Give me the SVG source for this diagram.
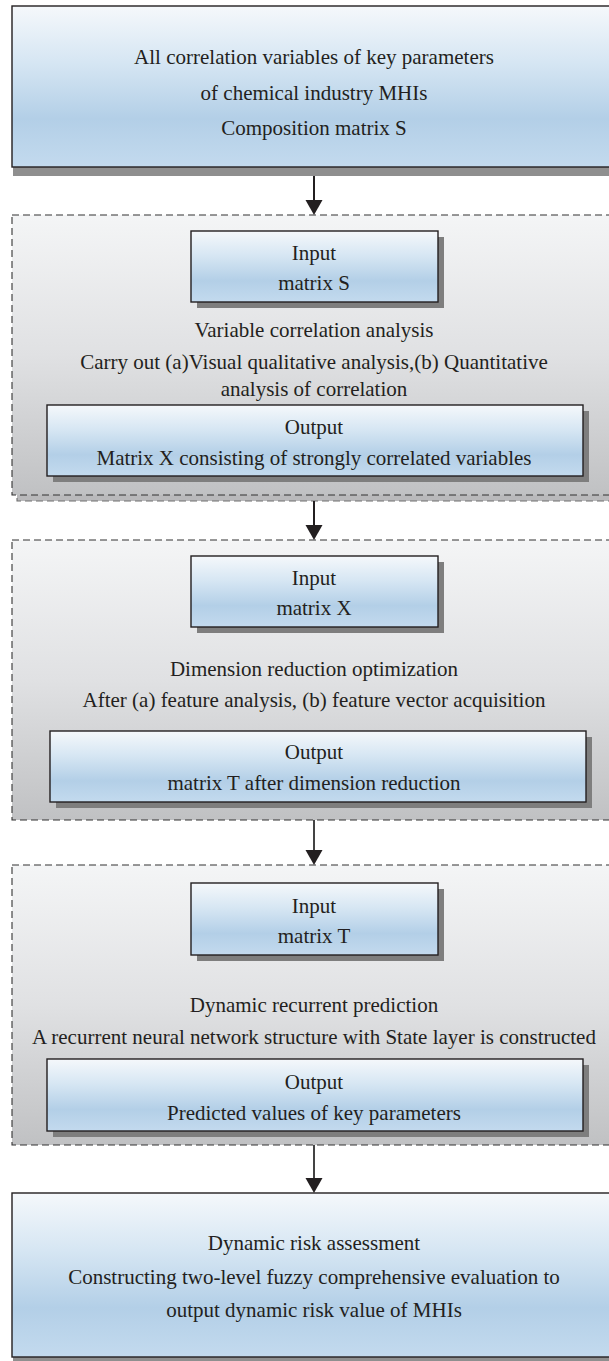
<svg xmlns="http://www.w3.org/2000/svg" width="609" height="1361" viewBox="0 0 609 1361">
<defs>
<linearGradient id="blue" x1="0" y1="0" x2="0" y2="1">
<stop offset="0" stop-color="#f5f8fb"/>
<stop offset="0.35" stop-color="#d6e6f3"/>
<stop offset="0.7" stop-color="#b3cfe7"/>
<stop offset="1" stop-color="#c3daee"/>
</linearGradient>
<linearGradient id="grey" x1="0" y1="0" x2="0" y2="1">
<stop offset="0" stop-color="#f4f5f6"/>
<stop offset="0.5" stop-color="#e0e1e3"/>
<stop offset="1" stop-color="#c0c1c3"/>
</linearGradient>
<marker id="arr" markerWidth="17" markerHeight="16" refX="8.5" refY="15" orient="auto-start-reverse" markerUnits="userSpaceOnUse" viewBox="0 0 17 16">
<path d="M0,0 L17,0 L8.5,15 Z" fill="#231f20" transform="rotate(-90 8.5 8)"/>
</marker>
</defs>
<style>
text{font-family:"Liberation Serif","Times New Roman",serif;font-size:21px;fill:#231f20;text-anchor:middle}
.box{fill:url(#blue);stroke:#231f20;stroke-width:1.4}
.sh{fill:#7e7e7e}
.bigsh{fill:#8f8f8f}
.dash{fill:url(#grey);stroke:#333;stroke-width:1.1;stroke-dasharray:7,4}
.dashsh{fill:#b9b9bb;stroke:#6e6e6e;stroke-width:1.1;stroke-dasharray:7,4}
.line{stroke:#231f20;stroke-width:2;fill:none}
.head{fill:#231f20}
</style>

<g id="top-node">
<rect class="bigsh" x="13" y="166" width="610" height="10"/>
<rect class="box" x="12" y="6" width="610" height="161"/>
<text x="314" y="64">All correlation variables of key parameters</text>
<text x="314" y="100">of chemical industry MHIs</text>
<text x="314" y="135">Composition matrix S</text>
</g>

<g id="stage1">
<rect class="dashsh" x="17" y="221" width="610" height="280"/>
<rect class="dash" x="12" y="215" width="610" height="280"/>
<g id="input1">
<rect class="sh" x="197" y="237" width="247" height="71"/>
<rect class="box" x="191" y="231" width="247" height="71"/>
<text x="314" y="260">Input</text>
<text x="314" y="290">matrix S</text>
</g>
<text x="314" y="337">Variable correlation analysis</text>
<text x="314" y="369">Carry out (a)Visual qualitative analysis,(b) Quantitative</text>
<text x="314" y="396">analysis of correlation</text>
<g id="output1">
<rect class="sh" x="53" y="411" width="536" height="71"/>
<rect class="box" x="47" y="405" width="536" height="71"/>
<text x="314" y="434">Output</text>
<text x="314" y="465">Matrix X consisting of strongly correlated variables</text>
</g>
</g>

<g id="stage2">
<rect class="dash" x="12" y="540" width="610" height="280"/>
<g id="input2">
<rect class="sh" x="197" y="562" width="247" height="71"/>
<rect class="box" x="191" y="556" width="247" height="71"/>
<text x="314" y="585">Input</text>
<text x="314" y="615">matrix X</text>
</g>
<text x="314" y="676">Dimension reduction optimization</text>
<text x="314" y="707">After (a) feature analysis, (b) feature vector acquisition</text>
<g id="output2">
<rect class="sh" x="56" y="737" width="536" height="71"/>
<rect class="box" x="50" y="731" width="536" height="71"/>
<text x="314" y="759">Output</text>
<text x="314" y="790">matrix T after dimension reduction</text>
</g>
</g>

<g id="stage3">
<rect class="dash" x="12" y="865" width="610" height="280"/>
<g id="input3">
<rect class="sh" x="197" y="889" width="247" height="72"/>
<rect class="box" x="191" y="883" width="247" height="72"/>
<text x="314" y="913">Input</text>
<text x="314" y="943">matrix T</text>
</g>
<text x="314" y="1012">Dynamic recurrent prediction</text>
<text x="314" y="1044">A recurrent neural network structure with State layer is constructed</text>
<g id="output3">
<rect class="sh" x="53" y="1065" width="536" height="72"/>
<rect class="box" x="47" y="1059" width="536" height="72"/>
<text x="314" y="1089">Output</text>
<text x="314" y="1120">Predicted values of key parameters</text>
</g>
</g>

<g id="bottom-node">
<rect class="bigsh" x="13" y="1356" width="610" height="6"/>
<rect class="box" x="12" y="1193" width="610" height="164"/>
<text x="314" y="1250">Dynamic risk assessment</text>
<text x="314" y="1284">Constructing two-level fuzzy comprehensive evaluation to</text>
<text x="314" y="1317">output dynamic risk value of MHIs</text>
</g>

<g id="connectors">
<line class="line" x1="314" y1="176" x2="314" y2="201"/>
<path class="head" d="M305.5,200 L322.5,200 L314,215 Z"/>
<line class="line" x1="314" y1="501" x2="314" y2="526"/>
<path class="head" d="M305.5,525 L322.5,525 L314,540 Z"/>
<line class="line" x1="314" y1="820" x2="314" y2="851" style="stroke:#444"/>
<path class="head" d="M305.5,850 L322.5,850 L314,865 Z"/>
<line class="line" x1="314" y1="1145" x2="314" y2="1179" style="stroke:#444"/>
<path class="head" d="M305.5,1178 L322.5,1178 L314,1193 Z"/>
</g>
</svg>
